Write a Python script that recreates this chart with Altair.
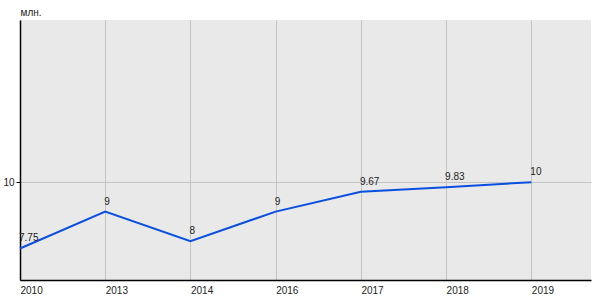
import altair as alt
import pandas as pd

years = ["2010", "2013", "2014", "2016", "2017", "2018", "2019"]
values = [7.75, 9, 8, 9, 9.67, 9.83, 10]
labels = ["7.75", "9", "8", "9", "9.67", "9.83", "10"]

df = pd.DataFrame({"idx": list(range(len(years))), "year": years, "v": values, "lab": labels})

label_expr = "[" + ",".join(f"'{y}'" for y in years) + "][datum.value]"

x = alt.X("idx:Q", scale=alt.Scale(domain=[0, 6.7], nice=False, zero=False),
          axis=alt.Axis(values=list(range(len(years))), labelExpr=label_expr, title=None,
                        grid=True, gridColor="#c4c4c4", gridWidth=1, ticks=False,
                        domainColor="#000000", domainWidth=1.5, labelAlign="left",
                        labelPadding=5, labelFont="Liberation Sans", labelFontSize=10,
                        labelColor="#222222", labelFlush=False, labelOverlap=False))
y = alt.Y("v:Q", scale=alt.Scale(domain=[6.68, 15.5], nice=False, zero=False),
          axis=alt.Axis(values=[10], title="млн.", titleAngle=0, titleX=0, titleY=-8,
                        titleAlign="left", titleBaseline="middle", titleFont="Liberation Sans",
                        titleFontSize=10, titleFontWeight="normal", titleColor="#222222",
                        grid=True, gridColor="#c4c4c4", tickSize=4, tickColor="#000000",
                        domainColor="#000000", domainWidth=1.5, labelPadding=2,
                        labelFont="Liberation Sans", labelFontSize=10, labelColor="#222222"))

line = alt.Chart(df).mark_line(color="#0a4fe0", strokeWidth=2).encode(x=x, y=y)
text = alt.Chart(df).mark_text(align="left", baseline="middle", dy=-10, dx=-1,
                                font="Liberation Sans", fontSize=10, color="#222222").encode(
    x="idx:Q", y="v:Q", text="lab:N")

chart = (line + text).properties(
    width=571, height=260,
    padding={"left": 20, "top": 20, "right": 9, "bottom": 20},
    autosize=alt.AutoSizeParams(type="none"),
    background="#ffffff",
).configure_view(fill="#e9e9e9", stroke=None)

chart.save("out.html", embed_options={"renderer": "svg", "actions": False})
